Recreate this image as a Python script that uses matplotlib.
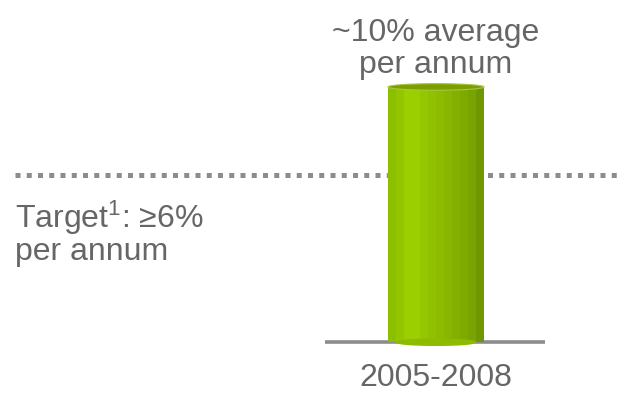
import numpy as np
import matplotlib.pyplot as plt
from matplotlib.colors import to_rgb
from matplotlib.patches import Ellipse

# %% data
categories = ['2005-2008']
growth = [10.0]          # ~10% average per annum
target = 6.0             # target >= 6% per annum
floor = -1.6             # where the baseline sits on the value axis

# %% style
plt.rcParams['font.family'] = ['Liberation Sans', 'DejaVu Sans']
plt.rcParams['mathtext.fontset'] = 'custom'
plt.rcParams['mathtext.rm'] = 'Liberation Sans'
plt.rcParams['mathtext.default'] = 'regular'
txt_col = '#666666'
grey = '#8c8c8c'
stripes = ['#8cbf00', '#93c600', '#9ccf00', '#9ccf00', '#95c700', '#90c000',
           '#8cbb00', '#88b600', '#83b000', '#7eaa00', '#78a300', '#6f9800']
fs = 23

fig = plt.figure(figsize=(6.19, 4.03), dpi=100)
ax = fig.add_axes([0, 0, 1, 1])
ax.set_xlim(-4.542, 1.906)
ax.set_ylim(-4.36, 13.95)
ax.axis('off')

x = np.arange(len(categories))
width = 1.0

# %% cylinder bars
for xi, val in zip(x, growth):
    body = ax.bar(xi, val - floor, bottom=floor, width=width,
                  color=stripes[1], zorder=2)[0]
    img = ax.imshow(np.array([[to_rgb(c) for c in stripes]]),
                    extent=(xi - width / 2, xi + width / 2, floor, val),
                    aspect='auto', interpolation='nearest', zorder=3)
    img.set_clip_path(body)
    # rounded bottom and darker top cap
    ax.add_patch(Ellipse((xi, floor), width * 0.82, 0.28,
                         color=stripes[6], zorder=3.5))
    ax.add_patch(Ellipse((xi, val), width, 0.3,
                         facecolor='#7b9f00', edgecolor='#a8c640', lw=0.8, zorder=4))

# baseline and target line
ax.plot([-1.156, 1.135], [floor, floor], color=grey, lw=2.6,
        solid_capstyle='butt', zorder=1)
ax.plot([-4.385, 1.906], [target, target], color=grey, lw=3.6,
        linestyle=(0, (1, 1.25)), dash_capstyle='butt', zorder=1)

# %% labels
for xi, val, cat in zip(x, growth, categories):
    ax.annotate(f'~{val:.0f}% average\nper annum', (xi, val),
                xytext=(0, 5), textcoords='offset points', ha='center',
                va='bottom', fontsize=fs, color=txt_col, linespacing=1.1)
    ax.annotate(cat, (xi, floor), xytext=(0, -15), textcoords='offset points',
                ha='center', va='top', fontsize=fs, color=txt_col)

ax.annotate(f'Target$^1$: \u2265{target:.0f}%\nper annum', (-4.385, target),
            xytext=(0, -17), textcoords='offset points', ha='left', va='top',
            fontsize=fs, color=txt_col, linespacing=1.0)

fig.savefig('out.png', dpi=100)
